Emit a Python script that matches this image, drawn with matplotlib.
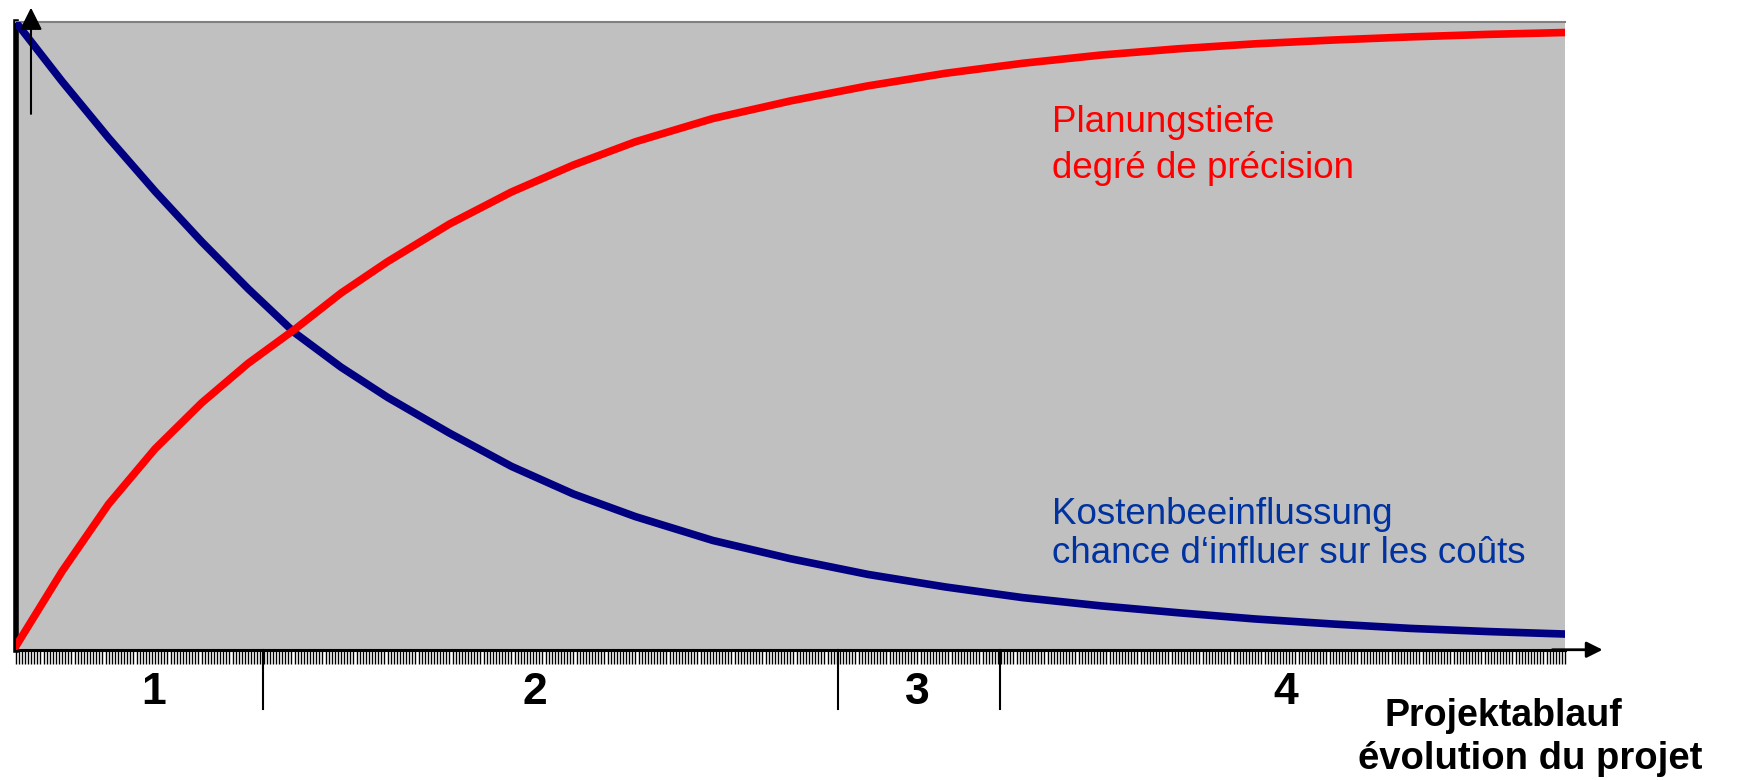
import numpy as np
import matplotlib
matplotlib.use('Agg')
import matplotlib.pyplot as plt

plt.rcParams['font.family'] = ['Liberation Sans', 'DejaVu Sans']

# project progress (%) and curve levels (%)
progress = [0, 3, 6, 9, 12, 15, 18, 21, 24, 28, 32, 36, 40, 45, 50, 55, 60, 65, 70, 75, 80, 85, 90, 95, 100]
kosten = [100, 90.5, 81.5, 73, 65, 57.5, 50.5, 45, 40.2, 34.5, 29.2, 24.8, 21.2, 17.4, 14.5,
          12.0, 10.0, 8.3, 7.0, 5.9, 4.9, 4.1, 3.4, 2.9, 2.5]
planung = [0.5, 12.5, 23.2, 32, 39.3, 45.6, 51, 56.8, 61.8, 67.8, 72.9, 77.2, 80.9, 84.6, 87.4,
           89.8, 91.8, 93.4, 94.7, 95.7, 96.5, 97.1, 97.6, 98.0, 98.3]

phase_bounds = [15.95, 53.1, 63.5]
phase_labels = ['1', '2', '3', '4']
phase_label_x = [8.9, 33.5, 58.2, 82.0]

fig = plt.figure(figsize=(17.39, 7.8), dpi=100)
ax = fig.add_axes([0.009, 0.167, 0.891, 0.805])
ax.set_facecolor('#c0c0c0')
ax.set_xlim(0, 100)
ax.set_ylim(0, 100)

ax.plot(progress, kosten, color='#000080', lw=5.5, solid_capstyle='round', zorder=3)
ax.plot(progress, planung, color='#ff0000', lw=5.5, solid_capstyle='round', zorder=3)

# frame
ax.spines['right'].set_visible(False)
ax.spines['top'].set_color('#808080')
ax.spines['top'].set_linewidth(1.5)
ax.spines['left'].set_color('k')
ax.spines['left'].set_linewidth(4)
ax.spines['bottom'].set_color('k')
ax.spines['bottom'].set_linewidth(2.2)

# dense tick marks along the time axis
ax.set_xticks(np.arange(0, 100.01, 0.2))
ax.set_yticks([])
ax.tick_params(axis='x', length=10, width=1.0, direction='out', labelbottom=False)

# arrows
ax.annotate('', xy=(1.026, 0), xytext=(0.99, 0), xycoords='axes fraction',
            arrowprops=dict(arrowstyle='-|>', color='k', lw=2, mutation_scale=24),
            annotation_clip=False)
ax.annotate('', xy=(0.0099, 1.027), xytext=(0.0099, 0.849), xycoords='axes fraction',
            arrowprops=dict(arrowstyle='-|>', color='k', lw=1.5, mutation_scale=34),
            annotation_clip=False)

# phases
trans = ax.get_xaxis_transform()
for b in phase_bounds:
    ax.plot([b, b], [0, -0.095], color='k', lw=1.5, transform=trans, clip_on=False)
for xl, lab in zip(phase_label_x, phase_labels):
    ax.text(xl, -0.068, lab, transform=trans, ha='center', va='center',
            fontsize=32, fontweight='bold')

# labels
fig.text(0.605, 0.831, 'Planungstiefe', color='#ff0000', fontsize=26.5, va='baseline')
fig.text(0.605, 0.772, 'degré de précision', color='#ff0000', fontsize=26.5, va='baseline')
fig.text(0.605, 0.328, 'Kostenbeeinflussung', color='#0033a0', fontsize=26.5, va='baseline')
fig.text(0.605, 0.278, 'chance d\u2018influer sur les coûts', color='#0033a0', fontsize=26.5, va='baseline')
fig.text(0.796, 0.069, 'Projektablauf', fontsize=27, fontweight='bold', va='baseline')
fig.text(0.781, 0.014, 'évolution du projet', fontsize=27.5, fontweight='bold', va='baseline')

fig.savefig('out.png', dpi=100)
